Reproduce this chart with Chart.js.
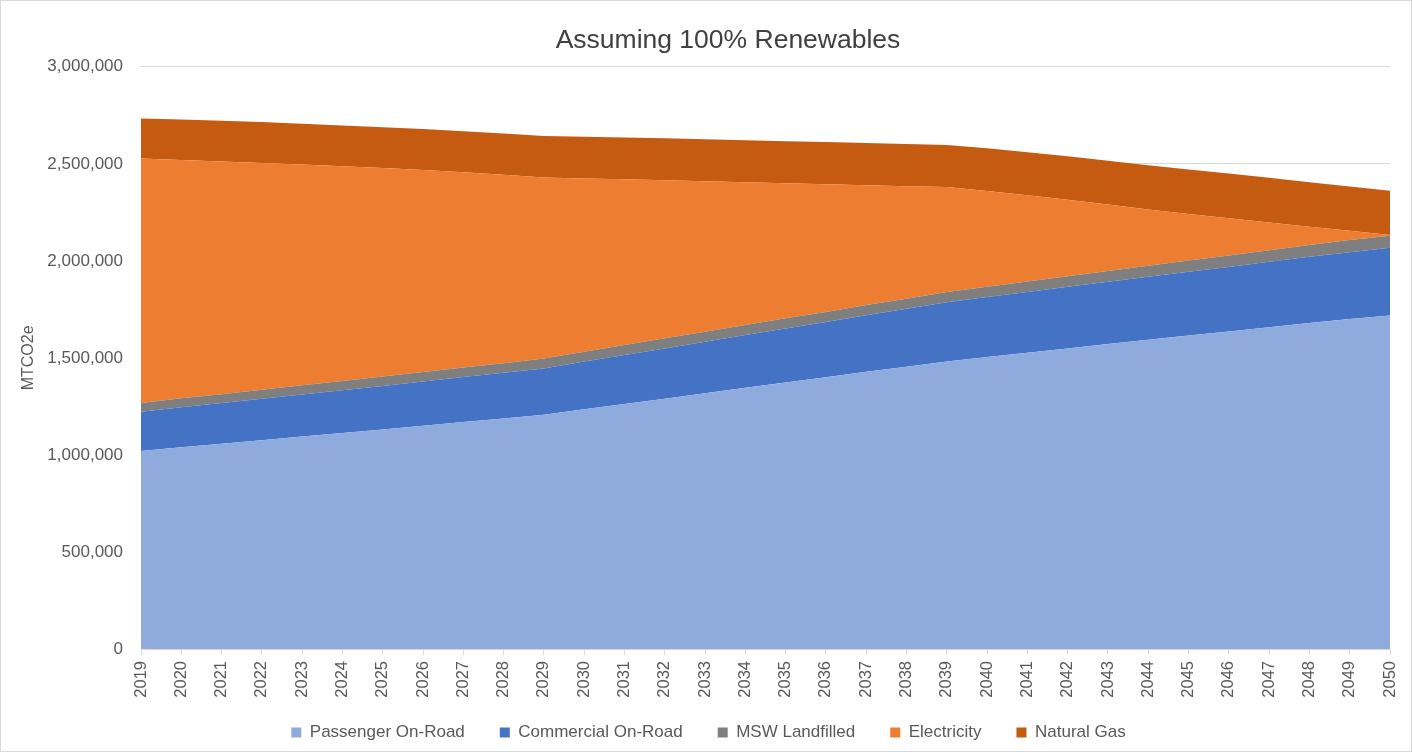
<!DOCTYPE html>
<html>
<head>
<meta charset="utf-8">
<script src="https://cdn.jsdelivr.net/npm/chart.js@4.4.1/dist/chart.umd.min.js"></script>
<style>
  html, body { margin: 0; padding: 0; background: #ffffff; }
  #wrap { position: relative; width: 1412px; height: 752px; box-sizing: border-box; border: 1px solid #d9d9d9; }
  canvas { display: block; }
</style>
</head>
<body>
<div id="wrap"><canvas id="c" width="1410" height="750"></canvas></div>
<script>
const years = ['2019','2020','2021','2022','2023','2024','2025','2026','2027','2028','2029','2030','2031','2032','2033','2034','2035','2036','2037','2038','2039','2040','2041','2042','2043','2044','2045','2046','2047','2048','2049','2050'];

const passengerOnRoad = [1020000,1040000,1058000,1076000,1095000,1113000,1131000,1150000,1170000,1188000,1207000,1235000,1263000,1290000,1318000,1346000,1373000,1400000,1428000,1455000,1482000,1505000,1527000,1549000,1571000,1593000,1615000,1636000,1658000,1680000,1700000,1718000];
const commercialOnRoad = [202000,206000,209000,213000,217000,220000,224000,228000,231000,235000,239000,246000,252000,259000,265000,272000,279000,285000,292000,298000,305000,309000,313000,317000,321000,325000,329000,333000,337000,341000,345000,349000];
const mswLandfilled = [45000,46000,46000,47000,47000,48000,49000,49000,50000,50000,51000,51000,51000,52000,52000,52000,52000,52000,52000,52000,52000,53000,54000,55000,56000,57000,58000,59000,60000,61000,62000,63000];
const electricity = [1260000,1228000,1199000,1168000,1137000,1106000,1074000,1041000,1006000,971000,933000,893000,854000,814000,775000,735000,696000,658000,618000,580000,541000,493000,444000,394000,342000,290000,240000,192000,143000,94000,48000,3000];
const naturalGas = [206000,208000,210000,211000,211000,211000,211000,211000,211000,212000,214000,215000,216000,217000,217000,217000,217000,217000,217000,217000,217000,220000,222000,224000,226000,228000,229000,230000,230000,229000,228000,228000];

const yTicks = [0,500000,1000000,1500000,2000000,2500000,3000000];

const FONT = "'Liberation Sans', Arial, sans-serif";
const GREY = '#595959';
const PLOT_BOTTOM = 648;   // canvas px
const LEGEND_TRIM = 11;    // vertical space removed from legend box
const LEGEND_SHIFT = 13;   // horizontal nudge of legend

function area(label, data, color, fill) {
  return { label, data, backgroundColor: color, borderColor: color, borderWidth: 0,
           fill, pointRadius: 0, pointHoverRadius: 0, tension: 0 };
}

const layoutFix = {
  id: 'layoutFix',
  beforeLayout(chart) {
    const lg = chart.legend;
    if (lg && !lg._patched) {
      lg._patched = true;
      const origFit = lg.fit;
      lg.fit = function () { origFit.call(this); this.height -= LEGEND_TRIM; };
    }
  },
  afterLayout(chart) {
    if (chart.titleBlock) { chart.titleBlock.left = 65; chart.titleBlock.right = 1389; }
    if (chart.legend) {
      chart.legend.top -= LEGEND_TRIM;
      chart.legend.left += LEGEND_SHIFT;
      chart.legend.right += LEGEND_SHIFT;
    }
  }
};

new Chart(document.getElementById('c'), {
  type: 'line',
  data: {
    labels: years,
    datasets: [
      area('Passenger On-Road', passengerOnRoad, '#8FAADC', 'origin'),
      area('Commercial On-Road', commercialOnRoad, '#4472C4', '-1'),
      area('MSW Landfilled', mswLandfilled, '#7F7F7F', '-1'),
      area('Electricity', electricity, '#ED7D31', '-1'),
      area('Natural Gas', naturalGas, '#C55A11', '-1')
    ]
  },
  plugins: [layoutFix],
  options: {
    responsive: false,
    animation: false,
    layout: { padding: { left: 0, right: 21, top: 24, bottom: 0 } },
    plugins: {
      title: { display: true, text: 'Assuming 100% Renewables', color: '#404040',
               font: { family: FONT, size: 26.5, weight: 'normal' }, padding: { top: 0, bottom: 10 } },
      legend: { position: 'bottom',
                labels: { color: GREY, boxWidth: 10, boxHeight: 10, padding: 35,
                          font: { family: FONT, size: 17 } } },
      tooltip: { enabled: false }
    },
    scales: {
      x: {
        offset: false,
        afterFit: (s) => {
          const lg = s.chart.legend;
          const legendTop = 750 - (lg ? lg.height : 0);
          s.height = legendTop - PLOT_BOTTOM;
          s.paddingLeft = 0;
          s.paddingRight = 0;
        },
        grid: { display: true, drawOnChartArea: false, drawTicks: true, tickLength: 6, color: '#d9d9d9' },
        border: { display: true, color: '#d9d9d9' },
        ticks: { color: GREY, minRotation: 90, maxRotation: 90, autoSkip: false, padding: 6,
                 font: { family: FONT, size: 16.5 } }
      },
      y: {
        stacked: true,
        min: 0, max: 3000000,
        afterBuildTicks: (s) => { s.ticks = yTicks.map(v => ({ value: v })); },
        afterFit: (s) => { s.width = 140; },
        grid: { color: '#d9d9d9', drawTicks: false },
        border: { display: false },
        title: { display: true, text: 'MTCO2e', color: GREY, font: { family: FONT, size: 16 }, padding: { top: 18, bottom: 0 } },
        ticks: { color: GREY, padding: 18, font: { family: FONT, size: 17 },
                 callback: (v) => Number(v).toLocaleString('en-US') }
      }
    }
  }
});
</script>
</body>
</html>
